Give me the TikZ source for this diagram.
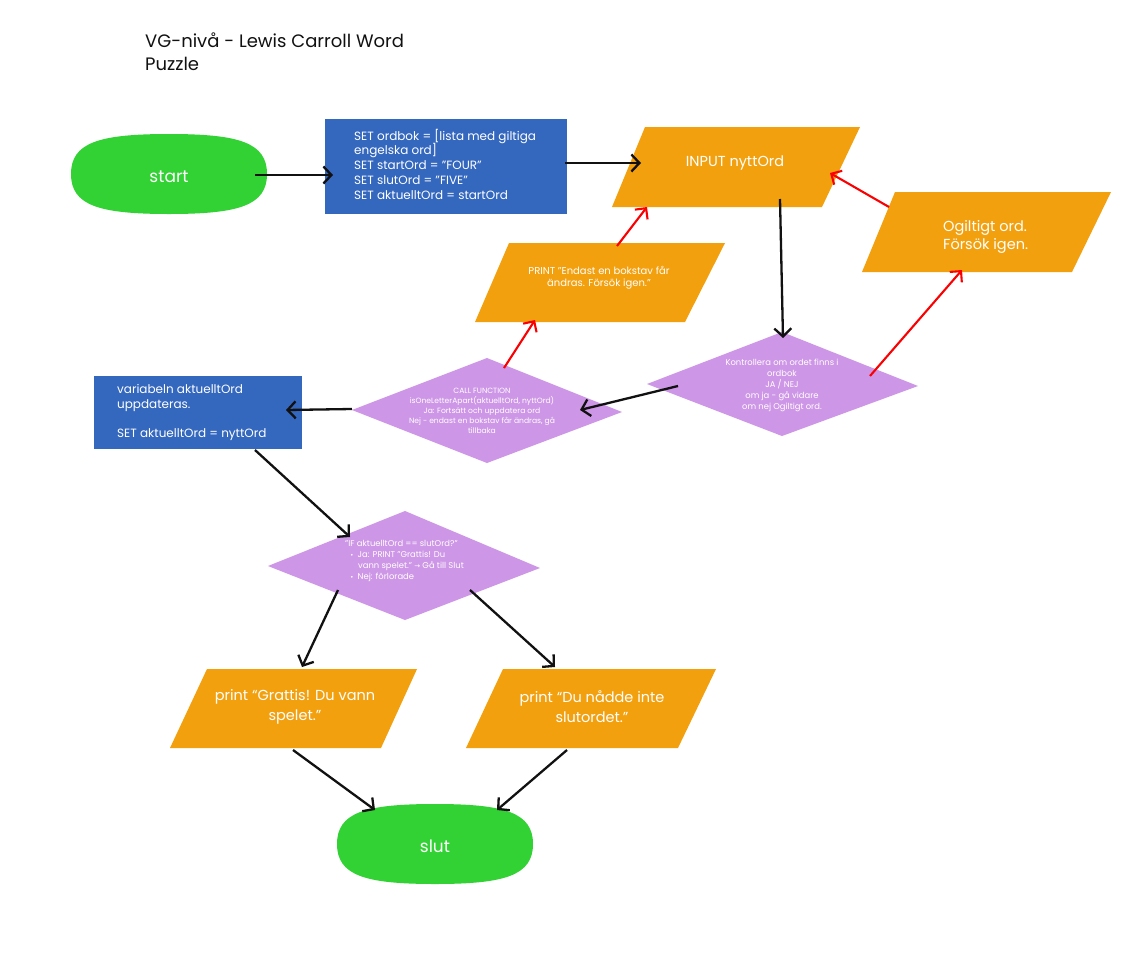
\documentclass[tikz,border=0pt]{standalone}
\usepackage{fontspec}
\setmainfont{Poppins}
\newfontfamily\symfont{DejaVu Sans}
\usetikzlibrary{arrows.meta}

\definecolor{termgreen}{RGB}{50,210,52}
\definecolor{procblue}{RGB}{52,103,190}
\definecolor{ioorange}{RGB}{243,160,15}
\definecolor{decpurple}{RGB}{205,150,230}
\definecolor{inkblack}{RGB}{17,17,17}
\definecolor{backred}{RGB}{250,0,0}

\newcommand{\fs}[2]{\fontsize{#1}{#2}\selectfont}
% rounded "pill" outline: centre x, centre y, half width, half height
\newcommand{\pill}[4]{%
  \fill[termgreen] (#1-#3,#2)
    .. controls (#1-#3,#2-0.78*#4) and (#1-0.72*#3,#2-#4) .. (#1,#2-#4)
    .. controls (#1+0.72*#3,#2-#4) and (#1+#3,#2-0.78*#4) .. (#1+#3,#2)
    .. controls (#1+#3,#2+0.78*#4) and (#1+0.72*#3,#2+#4) .. (#1,#2+#4)
    .. controls (#1-0.72*#3,#2+#4) and (#1-#3,#2+0.78*#4) .. (#1-#3,#2) -- cycle;}

\tikzset{
  label text/.style={text=white, inner sep=0pt},
  flow/.style={draw=inkblack, line width=2.3pt, -{Straight Barb[length=8pt,width=17pt]}},
  retry/.style={draw=backred, line width=2.1pt, -{Straight Barb[length=8pt,width=16pt]}},
}

\begin{document}
\begin{tikzpicture}[x=1pt,y=-1pt]
\useasboundingbox (0,0) rectangle (1133,956);
\fill[white] (0,0) rectangle (1133,956);

% title
\node[anchor=west, align=left, text=inkblack, inner sep=0pt, font=\fs{18}{23}] (title) at (145,51.5)
  {VG-nivå - Lewis Carroll Word\\Puzzle};

% terminals
\pill{169}{174}{98}{40}
\node[label text, font=\fs{17}{20}] (start) at (169,177) {start};
\pill{435}{844}{98}{40}
\node[label text, font=\fs{17}{20}] (slut) at (435,846) {slut};

% process boxes
\fill[procblue] (325,119) rectangle (567,214);
\node[label text, anchor=west, align=left, font=\fs{12}{14.75}] (init) at (354,164)
  {SET ordbok = [lista med giltiga\\engelska ord]\\SET startOrd = "FOUR"\\SET slutOrd = "FIVE"\\SET aktuelltOrd = startOrd};

\fill[procblue] (94,376) rectangle (302,449);
\node[label text, anchor=west, align=left, font=\fs{12}{14.75}] (update) at (117,412.5)
  {variabeln aktuelltOrd\\uppdateras.\\[14.75pt]SET aktuelltOrd = nyttOrd};

% input / output parallelograms
\fill[ioorange] (645,127) -- (860,127) -- (822,207) -- (612,207) -- cycle;
\node[label text, font=\fs{14.5}{18}] (input) at (735,163.5) {INPUT nyttOrd};

\fill[ioorange] (895,192) -- (1111,192) -- (1072,272) -- (862,272) -- cycle;
\node[label text, anchor=west, align=left, font=\fs{14.5}{18}] (invalid) at (943,237)
  {Ogiltigt ord.\\Försök igen.};

\fill[ioorange] (509,243) -- (725,243) -- (685,322) -- (475,322) -- cycle;
\node[label text, align=center, font=\fs{10}{11.6}] (oneletter) at (599,278)
  {PRINT "Endast en bokstav får\\ändras. Försök igen."};

\fill[ioorange] (207,669) -- (417,669) -- (381,748) -- (170,748) -- cycle;
\node[label text, align=center, font=\fs{14.5}{20}] (win) at (295,707)
  {print “Grattis! Du vann\\spelet.”};

\fill[ioorange] (503,669) -- (716,669) -- (678,748) -- (466,748) -- cycle;
\node[label text, align=center, font=\fs{14.5}{20}] (lose) at (592,707)
  {print “Du nådde inte\\slutordet.”};

% decisions
\fill[decpurple] (487,358) -- (622,412) -- (487,463) -- (352,410) -- cycle;
\node[label text, align=center, font=\fs{7.6}{10}] (call) at (482,411)
  {CALL FUNCTION\\isOneLetterApart(aktuelltOrd, nyttOrd)\\Ja: Fortsätt och uppdatera ord\\Nej - endast en bokstav får ändras, gå\\tillbaka};

\fill[decpurple] (782,332) -- (918,386) -- (782,436) -- (647,384) -- cycle;
\node[label text, align=center, font=\fs{8.4}{11}] (check) at (782,385)
  {Kontrollera om ordet finns i\\ordbok\\JA / NEJ\\om ja - gå vidare\\om nej Ogiltigt ord.};

\fill[decpurple] (405,511) -- (540,568) -- (405,620) -- (268,566) -- cycle;
\node[label text, anchor=west, align=left, font=\fs{8.4}{11.3}] (cond) at (345,561)
  {"IF aktuelltOrd == slutOrd?"\\
   \hspace*{5pt}{\symfont\fs{6}{11.3}•}\hspace{4pt}Ja: PRINT "Grattis! Du\\
   \hspace*{13pt}vann spelet." {\symfont\fs{7}{11.3}→} Gå till Slut\\
   \hspace*{5pt}{\symfont\fs{6}{11.3}•}\hspace{4pt}Nej: förlorade};

% connector end points
\coordinate (a1) at (255,175);  \coordinate (b1) at (333,175);
\coordinate (a2) at (565,163);  \coordinate (b2) at (641,163);
\coordinate (a3) at (780,199);  \coordinate (b3) at (783,338);
\coordinate (a4) at (678,386);  \coordinate (b4) at (580,410);
\coordinate (a5) at (352,409);  \coordinate (b5) at (286,410);
\coordinate (a6) at (255,450);  \coordinate (b6) at (350,537);
\coordinate (a7) at (338,590);  \coordinate (b7) at (302,667);
\coordinate (a8) at (470,590);  \coordinate (b8) at (555,667);
\coordinate (a9) at (293,750);  \coordinate (b9) at (375,810);
\coordinate (a10) at (567,750); \coordinate (b10) at (497,810);
\coordinate (r1) at (504,368);  \coordinate (s1) at (535,320);
\coordinate (r2) at (617,246);  \coordinate (s2) at (647,207);
\coordinate (r3) at (870,376);  \coordinate (s3) at (962,270);
\coordinate (r4) at (889,207);  \coordinate (s4) at (830,173);

% main flow
\draw[flow] (a1) -- (b1);
\draw[flow] (a2) -- (b2);
\draw[flow] (a3) -- (b3);
\draw[flow] (a4) -- (b4);
\draw[flow] (a5) -- (b5);
\draw[flow] (a6) -- (b6);
\draw[flow] (a7) -- (b7);
\draw[flow] (a8) -- (b8);
\draw[flow] (a9) -- (b9);
\draw[flow] (a10) -- (b10);

% retry loops
\draw[retry] (r1) -- (s1);
\draw[retry] (r2) -- (s2);
\draw[retry] (r3) -- (s3);
\draw[retry] (r4) -- (s4);
\end{tikzpicture}
\end{document}
